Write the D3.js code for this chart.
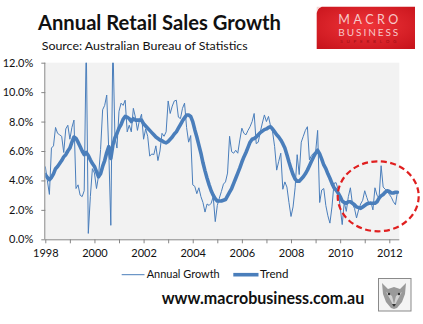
<!DOCTYPE html>
<html><head><meta charset="utf-8">
<script src="https://cdn.jsdelivr.net/npm/d3@7/dist/d3.min.js"></script>
<style>
html,body{margin:0;padding:0;background:#fff;}
svg{display:block;}
text{font-family:Lato,"Open Sans",sans-serif;}
</style></head>
<body>
<svg id="c" width="423" height="324"></svg>
<script>
// ---- data (monthly, Jan 1998 onward) ----
const startYear = 1998;
const annualGrowth = [
4.95,4.0,3.05,6.2,6.35,7.6,7.2,7.1,7.0,5.9,7.5,7.75,
6.8,7.6,8.1,3.45,3.7,3.0,2.9,3.3,13.5,0.4,2.9,4.8,
4.5,3.45,4.3,6.1,8.8,9.1,9.8,6.0,0.95,13.5,7.0,6.2,
8.7,9.25,9.1,9.45,7.3,7.75,7.3,8.9,8.3,7.4,8.1,8.5,
6.8,7.5,7.0,5.65,5.8,5.75,6.35,5.35,6.0,7.2,7.0,7.3,
9.4,8.55,9.05,9.4,9.45,8.3,8.2,8.9,9.25,7.6,6.6,7.05,
3.7,3.6,3.1,3.5,2.9,2.5,1.85,2.4,2.3,2.45,2.9,1.2,
2.3,2.8,3.25,3.75,3.9,4.5,7.0,5.95,5.85,6.05,5.85,6.75,
7.55,7.2,7.1,7.4,7.65,8.0,8.55,6.5,6.6,7.3,7.9,8.45,
8.0,8.35,7.7,7.3,6.3,4.7,5.3,5.85,3.4,3.9,3.55,2.5,
1.55,2.2,3.5,5.75,4.4,6.6,7.0,7.4,7.65,5.4,5.7,5.85,
5.9,7.4,2.5,3.35,3.45,2.3,1.6,1.1,2.2,3.8,3.85,3.4,
2.2,1.0,2.5,1.9,2.9,3.5,2.4,2.1,1.45,2.0,2.4,2.65,
3.3,2.85,2.45,2.55,2.0,3.5,3.0,2.8,5.0,3.55,3.4,3.3,
3.05,2.85,2.55,2.35,3.25
];
const trend = [
4.4,4.2,4.05,4.2,4.45,4.8,4.95,5.15,5.35,5.6,5.75,6.0,
6.2,6.6,6.95,6.85,6.6,6.3,6.0,5.75,5.9,5.7,5.4,5.15,
4.95,4.6,4.25,4.45,4.95,5.35,5.9,6.3,5.5,6.4,6.9,7.2,
7.55,7.8,8.15,8.35,8.3,8.2,8.0,8.2,8.1,8.1,8.1,8.1,
7.85,7.7,7.55,7.4,7.25,7.1,6.95,6.85,6.75,6.7,6.6,6.55,
6.65,6.8,6.95,7.15,7.3,7.55,7.8,8.05,8.25,8.45,8.45,8.35,
8.0,7.45,6.95,6.4,5.85,5.2,4.65,4.15,3.7,3.3,3.0,2.75,
2.6,2.6,2.6,2.65,2.7,2.95,3.2,3.45,3.8,4.15,4.5,4.85,
5.25,5.6,5.9,6.25,6.6,6.8,6.85,6.95,7.1,7.25,7.35,7.45,
7.5,7.6,7.65,7.5,7.3,7.1,6.95,6.75,6.5,6.2,5.75,5.25,
4.8,4.4,4.1,3.95,3.95,4.1,4.25,4.45,4.7,5.0,5.3,5.6,
5.85,6.05,5.8,5.45,5.05,4.8,4.45,4.15,3.8,3.5,3.35,3.15,
2.9,2.6,2.5,2.45,2.55,2.55,2.45,2.35,2.2,2.15,2.1,2.2,
2.3,2.4,2.45,2.45,2.45,2.45,2.55,2.8,2.95,3.05,3.2,3.3,
3.25,3.15,3.15,3.2,3.2
];
const yTicks = [0,2,4,6,8,10,12];
const xTickYears = [1998,1999,2000,2001,2002,2003,2004,2005,2006,2007,2008,2009,2010,2011,2012];
const xLabelYears = [1998,2000,2002,2004,2006,2008,2010,2012];
const seriesNames = ["Annual Growth","Trend"];
const titleText = "Annual Retail Sales Growth";
const sourceText = "Source: Australian Bureau of Statistics";
const urlText = "www.macrobusiness.com.au";

// ---- layout ----
const svg = d3.select("#c");
const plot = {l:45.3, r:399.3, t:62.7, b:239.3};
const pxPerYear = (389.3-45.3)/14;
const x = d3.scaleLinear().domain([startYear, startYear + (plot.r-plot.l)/pxPerYear]).range([plot.l, plot.r]);
const y = d3.scaleLinear().domain([0,12]).range([plot.b, plot.t]);
const blue = "#4a7ebb";

// title
svg.append("text").attr("x",38).attr("y",30).attr("font-size",20.5).attr("font-weight",700)
  .attr("fill","#111").attr("textLength",243).attr("lengthAdjust","spacingAndGlyphs").text(titleText);
svg.append("text").attr("x",41.7).attr("y",50).attr("font-size",11.5)
  .attr("fill","#111").attr("textLength",206).attr("lengthAdjust","spacingAndGlyphs").text(sourceText);

// logo
const defs = svg.append("defs");
const lg = defs.append("radialGradient").attr("id","rg").attr("cx","50%").attr("cy","45%").attr("r","70%");
lg.append("stop").attr("offset","0%").attr("stop-color","#f0353a");
lg.append("stop").attr("offset","100%").attr("stop-color","#c8141c");
svg.append("path").attr("d","M322,6.7 L415,6.7 L415,49 L316.7,49 L316.7,13 Q318,7 322,6.7 Z").attr("fill","url(#rg)");
svg.append("path").attr("d","M316.7,13 Q317,8 322,6.7 L316.7,6.7 Z").attr("fill","#f6d5d5");
svg.append("text").attr("x",368.3).attr("y",24).attr("text-anchor","middle").attr("font-size",12.5)
  .attr("fill","#f7c9c9").attr("textLength",60).attr("lengthAdjust","spacing").text("MACRO");
svg.append("text").attr("x",368.3).attr("y",36).attr("text-anchor","middle").attr("font-size",10)
  .attr("fill","#f7c9c9").attr("textLength",60).attr("lengthAdjust","spacing").text("BUSINESS");
svg.append("text").attr("x",368.3).attr("y",43).attr("text-anchor","middle").attr("font-size",4.5)
  .attr("fill","#9a0e14").attr("textLength",56).attr("lengthAdjust","spacing").text("SUPERBLOG");

// plot background
svg.append("rect").attr("x",plot.l).attr("y",plot.t).attr("width",plot.r-plot.l).attr("height",plot.b-plot.t).attr("fill","#f2f2f2");

// clip
defs.append("clipPath").attr("id","pc").append("rect")
  .attr("x",plot.l).attr("y",plot.t).attr("width",plot.r-plot.l).attr("height",plot.b-plot.t);

// axes
const yAxis = svg.append("g").attr("transform",`translate(${plot.l},0)`)
  .call(d3.axisLeft(y).tickValues(yTicks).tickSize(4).tickPadding(8).tickFormat(d=>d.toFixed(1)+"%"));
const xAxis = svg.append("g").attr("transform",`translate(0,${plot.b})`)
  .call(d3.axisBottom(x).tickValues(xTickYears).tickSize(4).tickPadding(6)
    .tickFormat(d=> xLabelYears.includes(d) ? String(d) : ""));
[yAxis,xAxis].forEach(g=>{
  g.select(".domain").attr("stroke","#868686").attr("stroke-width",1);
  g.selectAll(".tick line").attr("stroke","#868686");
  g.selectAll(".tick text").attr("fill","#111").attr("font-size",11).attr("font-family","Lato,'Open Sans',sans-serif");
});
xAxis.select(".domain").attr("d",`M${plot.l},0.5H${plot.r}`);
yAxis.select(".domain").attr("d",`M-0.5,${plot.t}V${plot.b}`);

// lines
const xi = (d,i)=> x(startYear + i/12);
const line = d3.line().x(xi).y(d=>y(d));
const g = svg.append("g").attr("clip-path","url(#pc)");
g.append("path").datum(annualGrowth).attr("d",line).attr("fill","none").attr("stroke",blue).attr("stroke-width",1).attr("stroke-linejoin","round");
g.append("path").datum(trend).attr("d",line).attr("fill","none").attr("stroke",blue).attr("stroke-width",3.6).attr("stroke-linejoin","round").attr("stroke-linecap","round");

// red dashed ellipse
svg.append("ellipse").attr("cx",378.2).attr("cy",196.3).attr("rx",40.5).attr("ry",35)
  .attr("fill","none").attr("stroke","#e01f1f").attr("stroke-width",2.2).attr("stroke-dasharray","6,3.5");

// legend
const lgd = svg.append("g");
lgd.append("line").attr("x1",121.7).attr("x2",144.5).attr("y1",274.7).attr("y2",274.7).attr("stroke",blue).attr("stroke-width",1);
lgd.append("text").attr("x",146.7).attr("y",278.3).attr("font-size",11).attr("fill","#111")
  .attr("textLength",73).attr("lengthAdjust","spacingAndGlyphs").text(seriesNames[0]);
lgd.append("line").attr("x1",233.3).attr("x2",258.5).attr("y1",274.7).attr("y2",274.7).attr("stroke",blue).attr("stroke-width",3.6);
lgd.append("text").attr("x",260).attr("y",278.3).attr("font-size",11).attr("fill","#111")
  .attr("textLength",28.5).attr("lengthAdjust","spacingAndGlyphs").text(seriesNames[1]);

// url
svg.append("text").attr("x",161.7).attr("y",304).attr("font-size",16.5).attr("font-weight",700)
  .attr("fill","#111").attr("textLength",202.6).attr("lengthAdjust","spacingAndGlyphs").text(urlText);

// wolf icon
const w = svg.append("g");
w.append("rect").attr("x",378.5).attr("y",278.5).attr("width",32.5).attr("height",32.5).attr("fill","#f4f4f4").attr("stroke","#8a8a8a").attr("stroke-width",1);
w.append("path").attr("d","M382,283 L388,289 L394,287 L400,289 L406,283 L405,294 L402,302 L397,308 L394,309 L391,308 L386,302 L383,294 Z")
  .attr("fill","#9a9a9a");
w.append("path").attr("d","M386,292 L392,296 L394,304 L396,296 L402,292 L398,299 L394,307 L390,299 Z").attr("fill","#d2d2d2");
w.append("circle").attr("cx",389).attr("cy",294).attr("r",1.2).attr("fill","#333");
w.append("circle").attr("cx",399).attr("cy",294).attr("r",1.2).attr("fill","#333");
w.append("path").attr("d","M392,304 L396,304 L394,307 Z").attr("fill","#333");
</script>
</body></html>
